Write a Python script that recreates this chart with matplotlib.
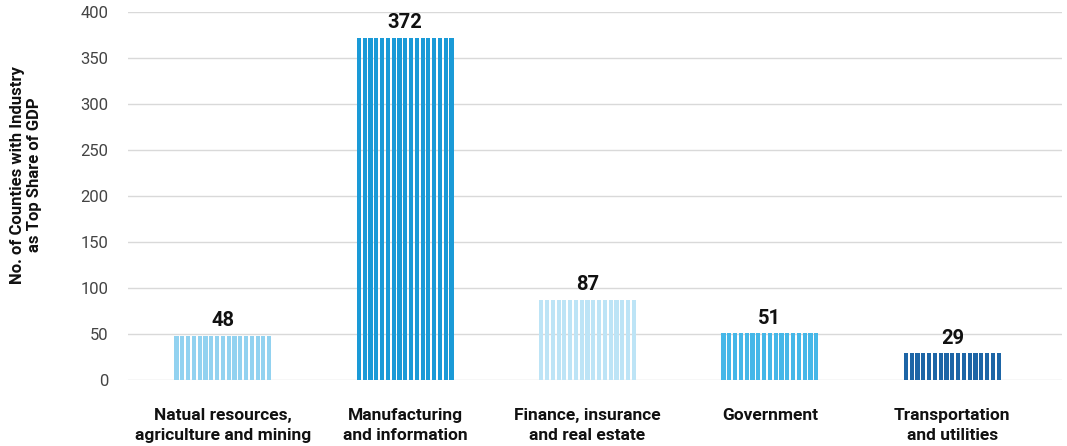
import matplotlib
matplotlib.use('Agg')
import matplotlib.pyplot as plt
import numpy as np

categories = ['Natual resources,\nagriculture and mining', 'Manufacturing\nand information',
              'Finance, insurance\nand real estate', 'Government', 'Transportation\nand utilities']
values = [48, 372, 87, 51, 29]
colors = ['#92d2f0', '#1a9ad7', '#bde4f6', '#45b7e8', '#1d65a6']

plt.rcParams['font.family'] = ['Roboto', 'DejaVu Sans']

fig = plt.figure(figsize=(10.67, 4.46), dpi=100)
ax = fig.add_axes([0.12, 0.148, 0.875, 0.825])

# each bar is drawn as a row of thin stripes
n_stripes = 17
bar_w = 0.54
step = bar_w / n_stripes
offsets = (np.arange(n_stripes) + 0.5) * step - bar_w / 2
x = np.arange(len(categories))
for i, (v, c) in enumerate(zip(values, colors)):
    ax.bar(x[i] + offsets, [v] * n_stripes, width=step * 0.72, color=c, zorder=3)
    ax.text(x[i], v + 6, str(v), ha='center', va='bottom', fontsize=14.5,
            fontweight='bold', color='#111111')

ax.set_xlim(-0.52, 4.6)
ax.set_ylim(0, 400)
ax.set_yticks(range(0, 401, 50))
ax.yaxis.grid(True, color='#d9d9d9', linewidth=1)
ax.set_axisbelow(True)
for s in ax.spines.values():
    s.set_visible(False)
ax.tick_params(axis='y', length=0, pad=14, labelsize=12, labelcolor='#444444')
ax.tick_params(axis='x', length=0, pad=20)
ax.set_xticks(x)
ax.set_xticklabels(categories, fontsize=12.5, fontweight='bold', color='#111111',
                   linespacing=1.4)
ax.set_ylabel('No. of Counties with Industry\nas Top Share of GDP', fontsize=12,
              fontweight='bold', color='#111111')
ax.yaxis.set_label_coords(-0.092, 0.557)

fig.savefig('out.png', dpi=100)
